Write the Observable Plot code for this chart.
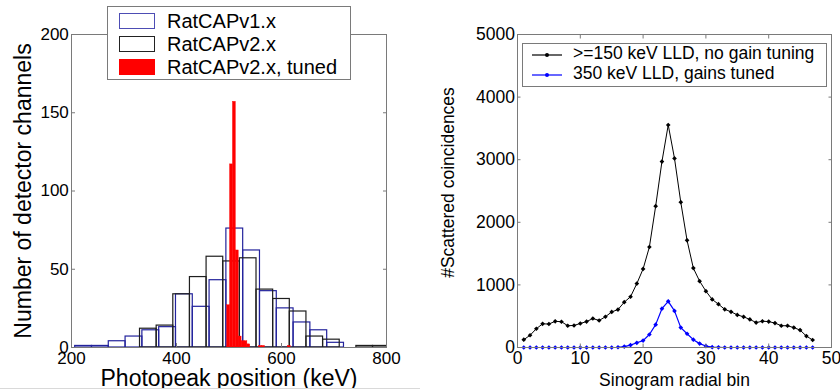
<!DOCTYPE html>
<html>
<head>
<meta charset="utf-8">
<script src="https://cdn.jsdelivr.net/npm/d3@7"></script>
<script src="https://cdn.jsdelivr.net/npm/@observablehq/plot@0.6"></script>
<style>
  html, body { margin: 0; padding: 0; background: #fff; }
  #wrap { position: relative; width: 840px; height: 391px; overflow: hidden; background: #fff;
          font-family: "Liberation Sans", Arial, sans-serif; color: #000; }
  #left, #right { position: absolute; top: 0; }
  #left { left: 0; } #right { left: 420px; }
  .legend { position: absolute; background: #fff; border: 1px solid #7a7a7a; box-sizing: border-box; }
  .row { position: absolute; white-space: nowrap; line-height: 1; }
  .sw { position: absolute; box-sizing: border-box; }
  #clipline { position: absolute; left: 0; top: 388px; width: 420px; height: 3px; background: #fff; border-top: 1px solid #d9d9d9; }
</style>
</head>
<body>
<div id="wrap">
  <div id="left"></div>
  <div id="right"></div>
  <div id="clipline"></div>
  <div class="legend" id="legL" style="left:107px; top:6px; width:244px; height:74px;"></div>
  <div class="legend" id="legR" style="left:522px; top:43px; width:305px; height:44px;"></div>
</div>
<script>
// ---------------- Left: photopeak histograms ----------------
const histTitleX = "Photopeak position (keV)";
const histTitleY = "Number of detector channels";
const seriesNames = ["RatCAPv1.x", "RatCAPv2.x", "RatCAPv2.x, tuned"];

// RatCAPv1.x: bin left edges (keV), counts; bin width
const v1Left   = [207, 239, 271, 303, 335, 367, 399, 431, 463, 495, 527, 559, 591, 623, 655, 687];
const v1Counts = [1, 1, 4, 7, 11, 13, 34, 26, 43, 76, 62, 36, 25, 16, 11, 3];
const v1Width  = 32;

// RatCAPv2.x
const v2Left   = [330.5, 362.2, 393.9, 425.6, 457.3, 489, 520.7, 552.4, 584.1, 615.8, 647.5, 679.2, 710.9, 742.6, 774.3];
const v2Counts = [12, 14, 34, 45, 58, 55, 57, 37, 31, 23, 7, 5, 0, 1, 1];
const v2Width  = 31.7;

// RatCAPv2.x, tuned
const tunedLeft   = [496.5, 502, 507.5, 513, 518.5, 524, 529.5, 535, 557.5, 563, 612];
const tunedCounts = [27, 117, 157, 62, 7, 4, 4, 2, 1, 1, 1];
const tunedWidth  = 5.5;

const histXTicks = [200, 400, 600, 800];
const histYTicks = [0, 50, 100, 150, 200];

// ---------------- Right: scattered coincidences ----------------
const scatTitleX = "Sinogram radial bin";
const scatTitleY = "#Scattered coincidences";
const lineNames = [">=150 keV LLD, no gain tuning", "350 keV LLD, gains tuned"];
const radialBins = [1,2,3,4,5,6,7,8,9,10,11,12,13,14,15,16,17,18,19,20,21,22,23,24,25,26,27,28,29,30,31,32,33,34,35,36,37,38,39,40,41,42,43,44,45,46,47];
const noTuning = [125, 195, 300, 378, 375, 418, 412, 348, 352, 384, 414, 463, 432, 491, 568, 606, 724, 811, 1021, 1255, 1605, 2258, 2970, 3555, 3020, 2322, 1712, 1268, 1060, 900, 768, 692, 610, 570, 521, 490, 449, 398, 420, 414, 390, 348, 347, 318, 278, 182, 120];
const gainsTuned = [0, 0, 0, 0, 0, 0, 0, 0, 0, 0, 0, 0, 0, 0, 0, 4, 14, 38, 75, 110, 208, 365, 620, 738, 585, 318, 220, 125, 62, 23, 5, 2, 0, 0, 0, 0, 0, 0, 0, 0, 0, 0, 0, 0, 0, 0, 0];
const scatXTicks = [0, 10, 20, 30, 40, 50];
const scatYTicks = [0, 1000, 2000, 3000, 4000, 5000];

const FONT = '"Liberation Sans", Arial, sans-serif';
const BLUE_BAR = "#23239c";
const BLACK_BAR = "#1e1e1e";
const FRAME = "#7a7a7a";

const toBins = (lefts, counts, w) => lefts.map((l, i) => ({x1: l, x2: l + w, n: counts[i]}));
const v1 = toBins(v1Left, v1Counts, v1Width);
const v2 = toBins(v2Left, v2Counts, v2Width);
const tuned = toBins(tunedLeft, tunedCounts, tunedWidth);

const blank = () => "";
const plain = d3.format("d");

const left = Plot.plot({
  width: 420, height: 391,
  marginLeft: 71, marginRight: 34, marginTop: 34, marginBottom: 44,
  x: {domain: [200, 800], label: null},
  y: {domain: [0, 200], label: null},
  style: {fontFamily: FONT, color: "#000"},
  marks: [
    Plot.rect(v1, {x1: "x1", x2: "x2", y1: () => 0, y2: "n", fill: "none", stroke: BLUE_BAR, strokeWidth: 1.2, clip: true}),
    Plot.rect(v2, {x1: "x1", x2: "x2", y1: () => 0, y2: "n", fill: "none", stroke: BLACK_BAR, strokeWidth: 1.2, clip: true}),
    Plot.rect(tuned, {x1: "x1", x2: "x2", y1: () => 0, y2: "n", fill: "#ff0000", stroke: "#ff0000", strokeWidth: 0.4}),
    Plot.frame({stroke: FRAME, strokeWidth: 1}),
    Plot.axisX(histXTicks, {anchor: "bottom", tickSize: -4, tickPadding: 8.5, fontSize: 17, tickFormat: plain, stroke: FRAME, fill: "#000", label: null}),
    Plot.axisX(histXTicks, {anchor: "top", tickSize: -4, tickFormat: blank, stroke: FRAME, label: null}),
    Plot.axisY(histYTicks, {anchor: "left", tickSize: -4, tickPadding: 6.7, fontSize: 17, tickFormat: plain, stroke: FRAME, fill: "#000", label: null}),
    Plot.axisY(histYTicks, {anchor: "right", tickSize: -4, tickFormat: blank, stroke: FRAME, label: null}),
    Plot.text([histTitleX], {frameAnchor: "bottom", textAnchor: "middle", dy: 31.5, lineAnchor: "middle", fontSize: 23, fill: "#000"}),
    Plot.text([histTitleY], {frameAnchor: "left", textAnchor: "middle", rotate: -90, dx: -47.5, lineAnchor: "middle", fontSize: 23, fill: "#000"})
  ]
});
document.getElementById("left").appendChild(left);

const scatRows = radialBins.map((b, i) => ({bin: b, a: noTuning[i], b2: gainsTuned[i]}));

const right = Plot.plot({
  width: 420, height: 391,
  marginLeft: 97, marginRight: 9, marginTop: 34, marginBottom: 44,
  x: {domain: [0, 50], label: null},
  y: {domain: [0, 5000], label: null},
  style: {fontFamily: FONT, color: "#000"},
  marks: [
    Plot.line(scatRows, {x: "bin", y: "a", stroke: "#000", strokeWidth: 1}),
    Plot.dot(scatRows, {x: "bin", y: "a", r: 2.1, fill: "#000", symbol: "diamond2"}),
    Plot.line(scatRows, {x: "bin", y: "b2", stroke: "#0000ff", strokeWidth: 1.2}),
    Plot.dot(scatRows, {x: "bin", y: "b2", r: 2.1, fill: "#0000ff", symbol: "diamond2"}),
    Plot.frame({stroke: FRAME, strokeWidth: 1}),
    Plot.axisX(scatXTicks, {anchor: "bottom", tickSize: -3.5, tickPadding: 8, fontSize: 17.5, tickFormat: plain, stroke: FRAME, fill: "#000", label: null}),
    Plot.axisX(scatXTicks, {anchor: "top", tickSize: -3.5, tickFormat: blank, stroke: FRAME, label: null}),
    Plot.axisY(scatYTicks, {anchor: "left", tickSize: -3.5, tickPadding: 6, fontSize: 17.5, tickFormat: plain, stroke: FRAME, fill: "#000", label: null}),
    Plot.axisY(scatYTicks, {anchor: "right", tickSize: -3.5, tickFormat: blank, stroke: FRAME, label: null}),
    Plot.text([scatTitleX], {frameAnchor: "bottom", textAnchor: "middle", dy: 33, lineAnchor: "middle", fontSize: 17.5, fill: "#000"}),
    Plot.text([scatTitleY], {frameAnchor: "left", textAnchor: "middle", rotate: -90, dx: -69.5, dy: -8.5, lineAnchor: "middle", fontSize: 17.5, fill: "#000"})
  ]
});
document.getElementById("right").appendChild(right);

// ---------------- Legends (HTML) ----------------
const legL = document.getElementById("legL");
const swStyles = [
  `border:1.3px solid #4d4db4; background:#fff;`,
  `border:1.3px solid #222; background:#fff;`,
  `background:#ff0000;`
];
seriesNames.forEach((name, i) => {
  const sw = document.createElement("div");
  sw.className = "sw";
  sw.style.cssText = `left:11px; top:${6 + i * 23}px; width:36px; height:16px; ${swStyles[i]}`;
  legL.appendChild(sw);
  const t = document.createElement("div");
  t.className = "row";
  t.style.cssText = `left:59px; top:${4 + i * 23}px; font-size:20px;`;
  t.textContent = name;
  legL.appendChild(t);
});

const legR = document.getElementById("legR");
const lineColors = ["#000", "#0000ff"];
lineNames.forEach((name, i) => {
  const y = 11 + i * 19.7;
  const svg = document.createElementNS("http://www.w3.org/2000/svg", "svg");
  svg.setAttribute("width", 34); svg.setAttribute("height", 8);
  svg.style.cssText = `position:absolute; left:9px; top:${y - 4}px; overflow:visible;`;
  svg.innerHTML = `<line x1="0" y1="4" x2="30" y2="4" stroke="${lineColors[i]}" stroke-width="1.2"/>` +
                  `<circle cx="15" cy="4" r="2" fill="${lineColors[i]}"/>`;
  legR.appendChild(svg);
  const t = document.createElement("div");
  t.className = "row";
  t.style.cssText = `left:50px; top:${y - 10}px; font-size:17.5px;`;
  t.textContent = name;
  legR.appendChild(t);
});
</script>
</body>
</html>
